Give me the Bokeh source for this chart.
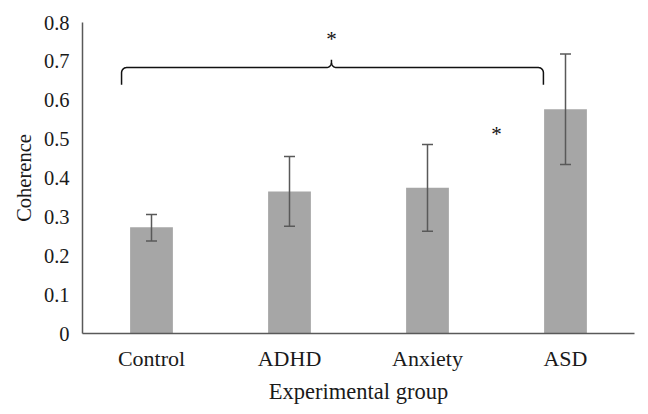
import numpy as np
from bokeh.plotting import figure
from bokeh.models import Range1d, ColumnDataSource, Whisker, TeeHead, FixedTicker, Label
from bokeh.embed import file_html
from bokeh.resources import INLINE

groups = ["Control", "ADHD", "Anxiety", "ASD"]
coherence = [0.273, 0.365, 0.375, 0.577]
err_low = [0.238, 0.276, 0.263, 0.435]
err_high = [0.306, 0.455, 0.486, 0.719]
y_ticks = [0, 0.1, 0.2, 0.3, 0.4, 0.5, 0.6, 0.7, 0.8]
y_tick_labels = ["0", "0.1", "0.2", "0.3", "0.4", "0.5", "0.6", "0.7", "0.8"]

FONT = "Liberation Serif"
x = list(range(len(groups)))
src = ColumnDataSource(dict(x=x, top=coherence, lo=err_low, hi=err_high))

p = figure(width=640, height=406, output_backend="svg", toolbar_location=None,
           x_range=Range1d(-0.5, 3.5), y_range=Range1d(0, 0.8),
           min_border_left=82, min_border_right=6, min_border_top=22, min_border_bottom=69)
p.outline_line_color = None
p.grid.grid_line_color = None
p.background_fill_color = "white"

p.vbar(x="x", top="top", width=0.31, source=src, fill_color="#a6a6a6", line_color=None)
w = Whisker(base="x", lower="lo", upper="hi", source=src, line_color="#595959", line_width=1.5,
            upper_head=TeeHead(size=11, line_color="#595959", line_width=1.5),
            lower_head=TeeHead(size=11, line_color="#595959", line_width=1.5),
            level="overlay")
p.add_layout(w)

# axes
p.xaxis.ticker = FixedTicker(ticks=x)
p.xaxis.major_label_overrides = {i: g for i, g in enumerate(groups)}
p.yaxis.ticker = FixedTicker(ticks=y_ticks)
p.yaxis.major_label_overrides = {t: l for t, l in zip(y_ticks, y_tick_labels)}
for ax in (p.xaxis, p.yaxis):
    ax.major_tick_line_color = None
    ax.minor_tick_line_color = None
    ax.axis_line_color = "#595959"
    ax.axis_line_width = 1.5
    ax.major_label_text_font = FONT
    ax.major_label_text_color = "#1a1a1a"
    ax.axis_label_text_font = FONT
    ax.axis_label_text_font_style = "normal"
    ax.axis_label_text_color = "#1a1a1a"
p.xaxis.major_label_text_font_size = "22px"
p.xaxis.axis_label_text_font_size = "22.5px"
p.yaxis.major_label_text_font_size = "20.5px"
p.yaxis.axis_label_text_font_size = "20.5px"
p.xaxis.axis_label = "Experimental group"
p.yaxis.axis_label = "Coherence"
p.xaxis.major_label_standoff = 6
p.xaxis.axis_label_standoff = 5
p.yaxis.major_label_standoff = 7
p.yaxis.axis_label_standoff = 6

# brace
x0, x1, xm = -0.217, 2.84, 1.304
yb, ye, yt = 0.684, 0.640, 0.704
rx, ry = 0.036, 0.0135
t = np.linspace(0, np.pi / 2, 12)
left_arc_x = x0 + rx - rx * np.cos(t)
left_arc_y = yb - ry + ry * np.sin(t)
mid_l_x = xm - rx + rx * np.sin(t)
mid_l_y = yb + ry - ry * np.cos(t)
mid_r_x = xm + rx - rx * np.sin(t[::-1])
mid_r_y = yb + ry - ry * np.cos(t[::-1])
right_arc_x = x1 - rx + rx * np.cos(t[::-1])
right_arc_y = yb - ry + ry * np.sin(t[::-1])
bx = np.concatenate([[x0], left_arc_x, mid_l_x, [xm], mid_r_x, right_arc_x, [x1]])
by = np.concatenate([[ye], left_arc_y, mid_l_y, [yt], mid_r_y, right_arc_y, [ye]])
p.line(bx, by, line_color="#111111", line_width=1.5)

p.add_layout(Label(x=xm, y=0.757, text="*", text_font=FONT, text_font_size="21px",
                   text_align="center", text_baseline="middle", text_color="#111111"))
p.add_layout(Label(x=2.5, y=0.512, text="*", text_font=FONT, text_font_size="21px",
                   text_align="center", text_baseline="middle", text_color="#111111"))

open("out.html", "w").write(file_html(p, INLINE))
